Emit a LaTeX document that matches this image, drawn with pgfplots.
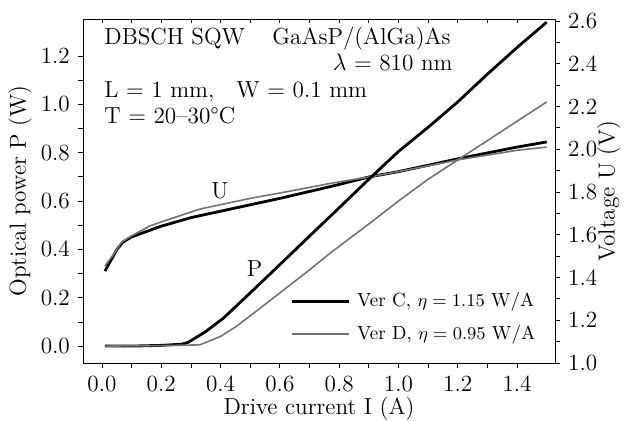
\documentclass[border=0pt]{standalone}
\usepackage{fontspec}
\usepackage{pgfplots}
\pgfplotsset{compat=1.18}
\definecolor{vgray}{gray}{0.45}
\begin{document}
\fontsize{11.6}{14}\selectfont
\begin{tikzpicture}
\useasboundingbox (-41.5pt,-28.5pt) rectangle (272.5pt,181.5pt);
\pgfplotsset{
  every axis/.append style={
    scale only axis, width=236pt, height=172pt, at={(0pt,0pt)}, anchor=south west,
    xmin=-0.064, xmax=1.528,
    axis line style={-},
    major tick length=2.5pt, minor tick length=2.5pt,
    tick style={black, line width=0.4pt},
    font=\fontsize{11.6}{14}\selectfont,
  },
}
% top inward ticks
\begin{axis}[
  ymin=0, ymax=1,
  axis x line*=top, axis y line=none,
  xtick={0,0.2,...,1.4}, minor x tick num=1,
  xticklabels={}, tick align=inside,
  major tick length=2pt, minor tick length=2pt,
]
\end{axis}
% voltage axis
\begin{axis}[
  ymin=1.0, ymax=2.609,
  axis y line*=right, axis x line=none,
  ytick={1.0,1.2,...,2.6}, minor y tick num=1,
  tick align=outside,
  yticklabel style={/pgf/number format/.cd, fixed, fixed zerofill, precision=1, assume math mode=true},
  ylabel={Voltage U (V)},
  ylabel style={at={(axis description cs:1.114,0.5)}, anchor=center},
]
\addplot[black, line width=1.4pt] coordinates {
(0.01,1.43) (0.03,1.48) (0.05,1.53) (0.07,1.565) (0.1,1.59) (0.16,1.62) (0.2,1.64) (0.3,1.68) (0.4,1.71) (0.5,1.74) (0.6,1.77) (0.77,1.825) (0.9,1.87) (1.0,1.895) (1.2,1.955) (1.4,2.01) (1.5,2.034)};
\addplot[vgray, line width=0.8pt] coordinates {
(0.01,1.454) (0.04,1.51) (0.067,1.566) (0.1,1.595) (0.16,1.64) (0.2,1.66) (0.33,1.72) (0.5,1.77) (0.6,1.795) (0.77,1.84) (0.9,1.87) (1.0,1.895) (1.2,1.95) (1.4,1.995) (1.5,2.01)};
\end{axis}
% power axis
\begin{axis}[
  ymin=-0.070, ymax=1.353,
  xtick={0,0.2,...,1.4}, minor x tick num=1,
  ytick={0,0.2,...,1.2}, minor y tick num=1,
  xtick pos=bottom, ytick pos=left,
  tick align=outside,
  xticklabel style={/pgf/number format/.cd, fixed, fixed zerofill, precision=1, assume math mode=true},
  yticklabel style={/pgf/number format/.cd, fixed, fixed zerofill, precision=1, assume math mode=true},
  xlabel={Drive current I (A)},
  ylabel={Optical power P (W)},
  xlabel style={at={(axis description cs:0.5,-0.134)}, anchor=center},
  ylabel style={at={(axis description cs:-0.1335,0.5)}, anchor=center},
  legend style={at={(axis description cs:0.4386,0.045)}, anchor=south west,
    draw=none, fill=none, inner sep=0pt, font=\fontsize{9.5}{11}\selectfont,
    row sep=3.5pt},
  legend cell align=left,
  legend image code/.code={\draw[#1] (0pt,0pt) -- (28.5pt,0pt); \path (30pt,0pt);},
]
\addplot[black, line width=1.4pt] coordinates {
(0.01,0.0) (0.1,0.0) (0.2,0.003) (0.27,0.008) (0.29,0.015) (0.35,0.06) (0.41,0.116) (0.5,0.22) (0.6,0.337) (0.7,0.455) (0.8,0.572) (0.9,0.69) (1.0,0.805) (1.1,0.905) (1.2,1.01) (1.3,1.125) (1.4,1.235) (1.5,1.34)};
\addlegendentry{Ver C, $\eta=1.15$ W/A}
\addplot[vgray, line width=0.8pt] coordinates {
(0.01,0) (0.2,0.002) (0.33,0.005) (0.4,0.04) (0.455,0.083) (0.5,0.125) (0.6,0.22) (0.7,0.315) (0.77,0.385) (0.9,0.505) (1.0,0.6) (1.1,0.69) (1.2,0.77) (1.3,0.85) (1.4,0.93) (1.5,1.01)};
\addlegendentry{Ver D, $\eta=0.95$ W/A}
\end{axis}
\node[anchor=base west, inner sep=0pt] at (10.5pt,159.5pt) {DBSCH SQW};
\node[anchor=base west, inner sep=0pt] at (94.5pt,159.5pt) {GaAsP/(AlGa)As};
\node[anchor=base east, inner sep=0pt] at (185pt,146.5pt) {$\lambda$ = 810 nm};
\node[anchor=base west, inner sep=0pt] at (10.5pt,133pt) {L = 1 mm,\hspace{11pt}W = 0.1 mm};
\node[anchor=base west, inner sep=0pt] at (10.5pt,120pt) {T = 20–30°C};
\node[anchor=base, inner sep=0pt] at (68.5pt,82.5pt) {U};
\node[anchor=base, inner sep=0pt] at (85.75pt,43.5pt) {P};
\end{tikzpicture}
\end{document}
